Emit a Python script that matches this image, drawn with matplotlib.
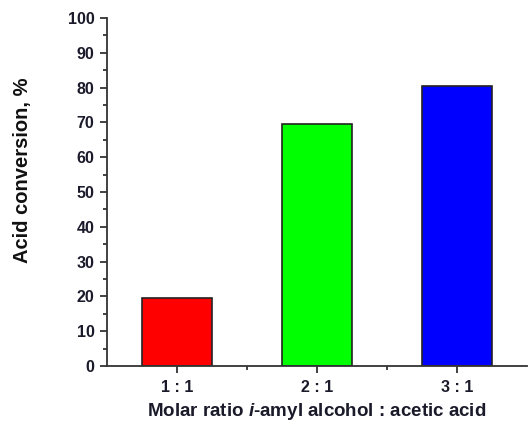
import matplotlib
matplotlib.use("Agg")
import matplotlib.pyplot as plt
from matplotlib.ticker import MultipleLocator, FixedLocator

ratios = ["1 : 1", "2 : 1", "3 : 1"]
conversion = [19.5, 69.5, 80.5]
colors = ["#ff0000", "#00ff00", "#0000ff"]

plt.rcParams['font.family'] = 'Liberation Sans'
plt.rcParams['mathtext.fontset'] = 'custom'
plt.rcParams['mathtext.it'] = 'Liberation Sans:bold:italic'
plt.rcParams['mathtext.rm'] = 'Liberation Sans:bold'

fig = plt.figure(figsize=(5.28, 4.23), dpi=100)
ax = fig.add_axes([107/528, 57/423, 420/528, 348/423])

pos = [1, 2, 3]
ax.bar(pos, conversion, width=0.5, color=colors, edgecolor="#222222", linewidth=1.2)

ax.set_xlim(0.5, 3.5)
ax.set_ylim(0, 100)
ax.set_xticks(pos)
ax.set_xticklabels(ratios)
ax.xaxis.set_minor_locator(FixedLocator([1.5, 2.5]))
ax.yaxis.set_major_locator(MultipleLocator(10))
ax.yaxis.set_minor_locator(MultipleLocator(5))

for s in ["top", "right"]:
    ax.spines[s].set_visible(False)
for s in ["left", "bottom"]:
    ax.spines[s].set_linewidth(1.3)
    ax.spines[s].set_color("#333333")

ax.tick_params(which="major", direction="out", length=5, width=1.3, color="#333333",
               labelsize=11.5, labelcolor="#1a1a2a", pad=4)
ax.tick_params(which="minor", direction="out", length=3, width=1.3, color="#333333")
ax.tick_params(axis="x", which="major", pad=5)
for lab in ax.get_xticklabels() + ax.get_yticklabels():
    lab.set_fontweight("bold")

fig.text(23/528, 1 - 170/423, "Acid conversion, %", rotation=90, fontsize=14.5,
         fontweight="bold", ha="center", va="center", color="#111111")
fig.text(317/528, 1 - 416/423, r"Molar ratio $i$-amyl alcohol : acetic acid",
         fontsize=13.5, fontweight="bold", color="#1a1a2a", ha="center", va="baseline")

fig.savefig("out.png", dpi=100)
